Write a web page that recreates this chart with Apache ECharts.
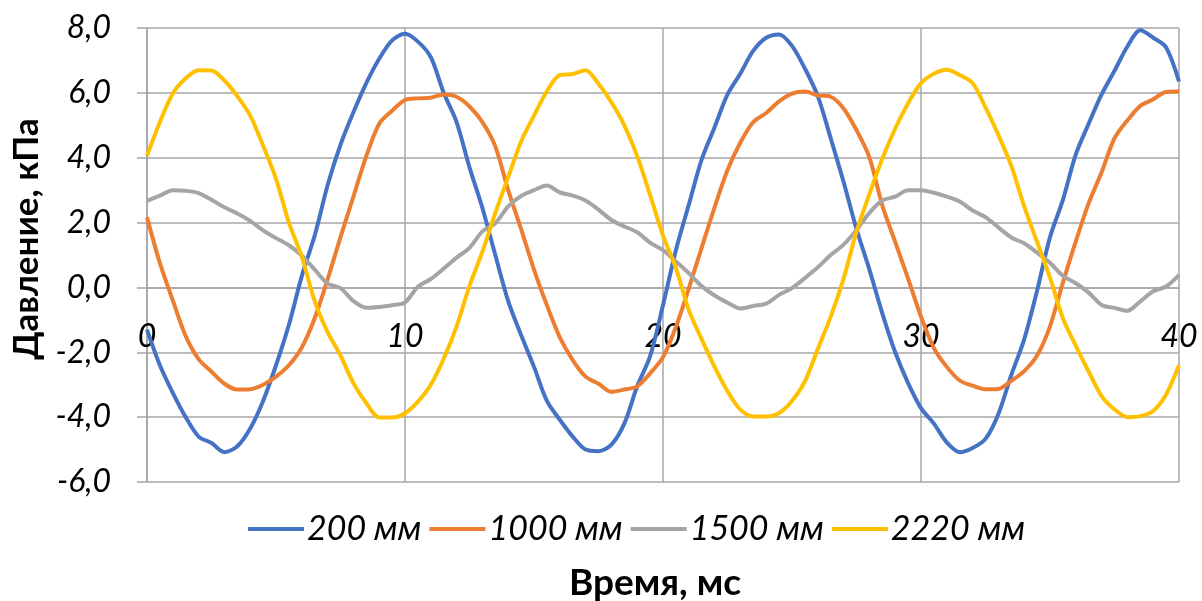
<!DOCTYPE html>
<html>
<head>
<meta charset="utf-8">
<script src="https://cdn.jsdelivr.net/npm/echarts@6/dist/echarts.min.js"></script>
<style>
  html, body { margin: 0; padding: 0; background: #fff; }
  #chart { width: 1202px; height: 601px; }
</style>
</head>
<body>
<div id="chart"></div>
<script>
// Sample times, ms
const timeMs = [
  0, 0.5, 1, 1.5, 2, 2.5, 3, 3.5, 4, 4.5, 5, 5.5, 6, 6.5, 7, 7.5, 8, 8.5, 9, 9.5,
  10, 10.5, 11, 11.5, 12, 12.5, 13, 13.5, 14, 14.5, 15, 15.5, 16, 16.5, 17, 17.5, 18, 18.5, 19, 19.5,
  20, 20.5, 21, 21.5, 22, 22.5, 23, 23.5, 24, 24.5, 25, 25.5, 26, 26.5, 27, 27.5, 28, 28.5, 29, 29.5,
  30, 30.5, 31, 31.5, 32, 32.5, 33, 33.5, 34, 34.5, 35, 35.5, 36, 36.5, 37, 37.5, 38, 38.5, 39, 39.5,
  40
];

// Pressure, kPa, at each sensor position
const p200 = [
  -1.3, -2.4, -3.25, -4.0, -4.6, -4.8, -5.08, -4.9, -4.35, -3.5, -2.4, -1.15, 0.35, 1.6, 3.15, 4.4, 5.4, 6.3, 7.05, 7.62,
  7.82, 7.58, 7.1, 6.0, 5.1, 3.7, 2.45, 1.0, -0.42, -1.47, -2.45, -3.5, -4.08, -4.6, -5.0, -5.05, -4.85, -4.2, -3.05, -2.12,
  -0.55, 1.15, 2.55, 3.95, 4.94, 5.95, 6.6, 7.3, 7.7, 7.8, 7.45, 6.75, 5.9, 4.6, 3.25, 1.8, 0.55, -0.8, -2.0, -2.95,
  -3.72, -4.2, -4.78, -5.08, -4.95, -4.67, -3.9, -2.7, -1.6, -0.1, 1.55, 2.7, 4.1, 5.05, 5.95, 6.68, 7.43, 7.93, 7.7, 7.4,
  6.35
];
const p1000 = [
  2.16, 0.75, -0.4, -1.5, -2.21, -2.6, -2.97, -3.15, -3.14, -3.0, -2.75, -2.4, -1.85, -0.95, 0.25, 1.55, 2.8, 4.05, 5.05, 5.45,
  5.78, 5.83, 5.85, 5.95, 5.88, 5.58, 5.1, 4.35, 3.0, 1.8, 0.55, -0.55, -1.54, -2.24, -2.75, -2.97, -3.22, -3.15, -3.05, -2.65,
  -2.15, -1.22, -0.03, 1.23, 2.47, 3.62, 4.47, 5.1, 5.38, 5.74, 5.98, 6.04, 5.92, 5.88, 5.52, 4.85, 4.01, 2.53, 1.4, 0.27,
  -0.9, -1.87, -2.45, -2.87, -3.03, -3.14, -3.13, -2.88, -2.58, -2.1, -1.2, 0.15, 1.42, 2.6, 3.55, 4.6, 5.15, 5.6, 5.8, 6.03,
  6.04
];
const p1500 = [
  2.67, 2.83, 3.0, 2.98, 2.91, 2.7, 2.47, 2.28, 2.05, 1.76, 1.52, 1.3, 0.98, 0.55, 0.12, -0.02, -0.42, -0.63, -0.6, -0.55,
  -0.46, 0.02, 0.26, 0.58, 0.92, 1.22, 1.73, 1.98, 2.5, 2.82, 3.0, 3.14, 2.93, 2.83, 2.68, 2.4, 2.08, 1.88, 1.7, 1.38,
  1.15, 0.8, 0.44, 0.04, -0.25, -0.47, -0.65, -0.57, -0.5, -0.23, -0.02, 0.29, 0.62, 1.0, 1.32, 1.77, 2.3, 2.68, 2.8, 3.0,
  3.0, 2.92, 2.8, 2.65, 2.37, 2.17, 1.85, 1.54, 1.36, 1.07, 0.76, 0.36, 0.13, -0.16, -0.54, -0.63, -0.72, -0.43, -0.12, 0.03,
  0.38
];
const p2220 = [
  4.06, 5.1, 5.98, 6.45, 6.7, 6.69, 6.38, 5.9, 5.3, 4.37, 3.35, 2.0, 0.95, -0.42, -1.38, -2.1, -2.95, -3.57, -4.01, -4.01,
  -3.88, -3.52, -3.0, -2.2, -1.2, 0.05, 1.1, 2.3, 3.4, 4.5, 5.3, 6.05, 6.55, 6.58, 6.7, 6.28, 5.71, 5.0, 4.05, 2.85,
  1.6, 0.6, -0.7, -1.6, -2.45, -3.2, -3.77, -3.98, -3.98, -3.87, -3.5, -2.9, -1.9, -0.9, 0.27, 1.72, 2.88, 3.97, 4.9, 5.68,
  6.3, 6.59, 6.71, 6.55, 6.3, 5.55, 4.7, 3.75, 2.5, 1.4, 0.3, -0.95, -1.8, -2.6, -3.35, -3.76, -4.0, -3.97, -3.81, -3.3,
  -2.4
];

const seriesNames = ['200 мм', '1000 мм', '1500 мм', '2220 мм'];
const seriesValues = [p200, p1000, p1500, p2220];
const seriesColors = ['#4472C4', '#ED7D31', '#A5A5A5', '#FFC000'];

const FONT = 'Lato, "Open Sans", sans-serif';
const GRID_COLOR = '#a6a6a6';

// plot box
const PLOT = { left: 147, right: 23, top: 28, bottom: 119 };
const Y_MIN = -6, Y_MAX = 8;
const PLOT_H = 601 - PLOT.top - PLOT.bottom;
// the time axis crosses the pressure axis at 0 kPa
const X_AXIS_SHIFT = -PLOT_H * (0 - Y_MIN) / (Y_MAX - Y_MIN);

function pairs(values) {
  return timeMs.map((t, i) => [t, values[i]]);
}

const chart = echarts.init(document.getElementById('chart'), null, { renderer: 'canvas' });

chart.setOption({
  animation: false,
  backgroundColor: '#ffffff',
  grid: { left: PLOT.left, right: PLOT.right, top: PLOT.top, bottom: PLOT.bottom, containLabel: false },
  xAxis: {
    type: 'value',
    min: 0, max: 40, interval: 10,
    offset: X_AXIS_SHIFT,
    axisLine: { show: true, onZero: false, lineStyle: { color: GRID_COLOR, width: 1.5 } },
    axisTick: { show: false },
    axisLabel: {
      margin: 33, fontSize: 32, fontStyle: 'italic', color: '#000', fontFamily: FONT,
      showMinLabel: true, showMaxLabel: true
    },
    splitLine: { show: true, lineStyle: { color: GRID_COLOR, width: 1.5 } }
  },
  yAxis: {
    type: 'value',
    min: Y_MIN, max: Y_MAX, interval: 2,
    axisLine: { show: true, onZero: false, lineStyle: { color: GRID_COLOR, width: 1.5 } },
    axisTick: { show: true, inside: false, length: 10, lineStyle: { color: GRID_COLOR, width: 1.5 } },
    axisLabel: {
      margin: 36, fontSize: 32, fontStyle: 'italic', color: '#000', fontFamily: FONT,
      formatter: v => v.toFixed(1).replace('.', ',')
    },
    splitLine: { show: true, lineStyle: { color: GRID_COLOR, width: 1.5 } }
  },
  legend: {
    top: 507, left: 243,
    icon: 'rect', itemWidth: 56, itemHeight: 4, itemGap: 8,
    textStyle: { fontSize: 34, fontStyle: 'italic', color: '#000', fontFamily: FONT, padding: [0, 0, 0, -2] },
    data: seriesNames
  },
  graphic: [
    {
      type: 'text', x: 655, y: 583,
      style: {
        text: 'Время, мс', font: 'bold 37px ' + FONT, fill: '#000',
        align: 'center', verticalAlign: 'middle'
      }
    },
    {
      type: 'text', x: 27, y: 239, rotation: Math.PI / 2,
      style: {
        text: 'Давление, кПа', font: 'bold 35px ' + FONT, fill: '#000',
        align: 'center', verticalAlign: 'middle'
      }
    }
  ],
  series: seriesNames.map((name, k) => ({
    name,
    type: 'line',
    data: pairs(seriesValues[k]),
    showSymbol: false,
    smooth: 0.3,
    lineStyle: { color: seriesColors[k], width: 4 },
    itemStyle: { color: seriesColors[k] }
  }))
});
</script>
</body>
</html>
